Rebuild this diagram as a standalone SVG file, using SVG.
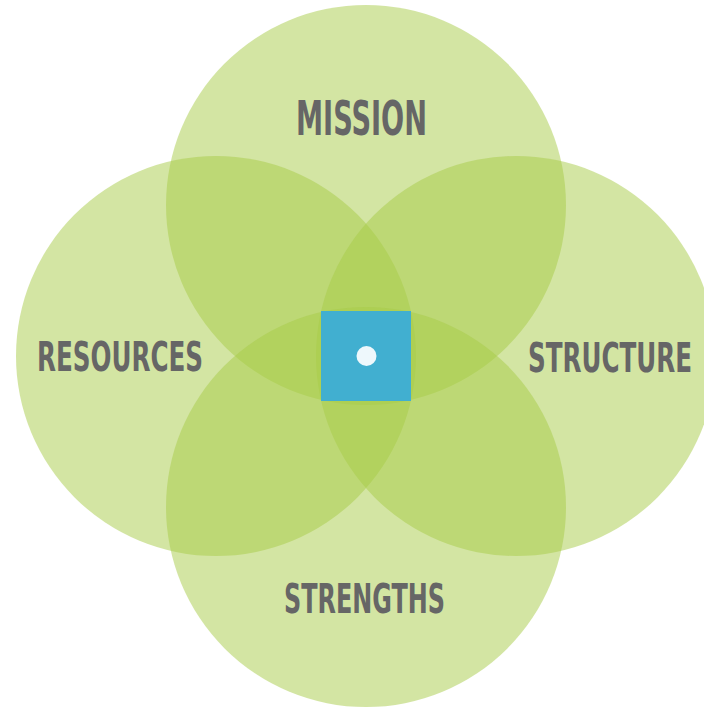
<svg xmlns="http://www.w3.org/2000/svg" width="704" height="708" viewBox="0 0 704 708">
  <style>
    .petal { fill: #a7cc47; fill-opacity: 0.5; }
    .label { font-family: "DejaVu Sans Condensed", "Liberation Sans Narrow", "Liberation Sans", sans-serif; font-weight: bold; font-stretch: condensed; fill: #666666; }
  </style>
  <rect width="704" height="708" fill="#ffffff"/>
  <g id="mission">
    <circle class="petal" cx="366" cy="205" r="200"/>
    <text class="label" x="296" y="135" font-size="48" textLength="131" lengthAdjust="spacingAndGlyphs">MISSION</text>
  </g>
  <g id="resources">
    <circle class="petal" cx="216" cy="356" r="200"/>
    <text class="label" x="37" y="371" font-size="40" textLength="166" lengthAdjust="spacingAndGlyphs">RESOURCES</text>
  </g>
  <g id="structure">
    <circle class="petal" cx="516" cy="356" r="200"/>
    <text class="label" x="528" y="372" font-size="40" textLength="164" lengthAdjust="spacingAndGlyphs">STRUCTURE</text>
  </g>
  <g id="strengths">
    <circle class="petal" cx="366" cy="507" r="200"/>
    <text class="label" x="284" y="613" font-size="40" textLength="161" lengthAdjust="spacingAndGlyphs">STRENGTHS</text>
  </g>
  <g id="core">
    <rect x="321" y="311" width="90" height="90" fill="#41afd0"/>
    <circle cx="366.5" cy="356" r="10" fill="#eef8fc"/>
  </g>
  <g id="connectors"/>
</svg>
